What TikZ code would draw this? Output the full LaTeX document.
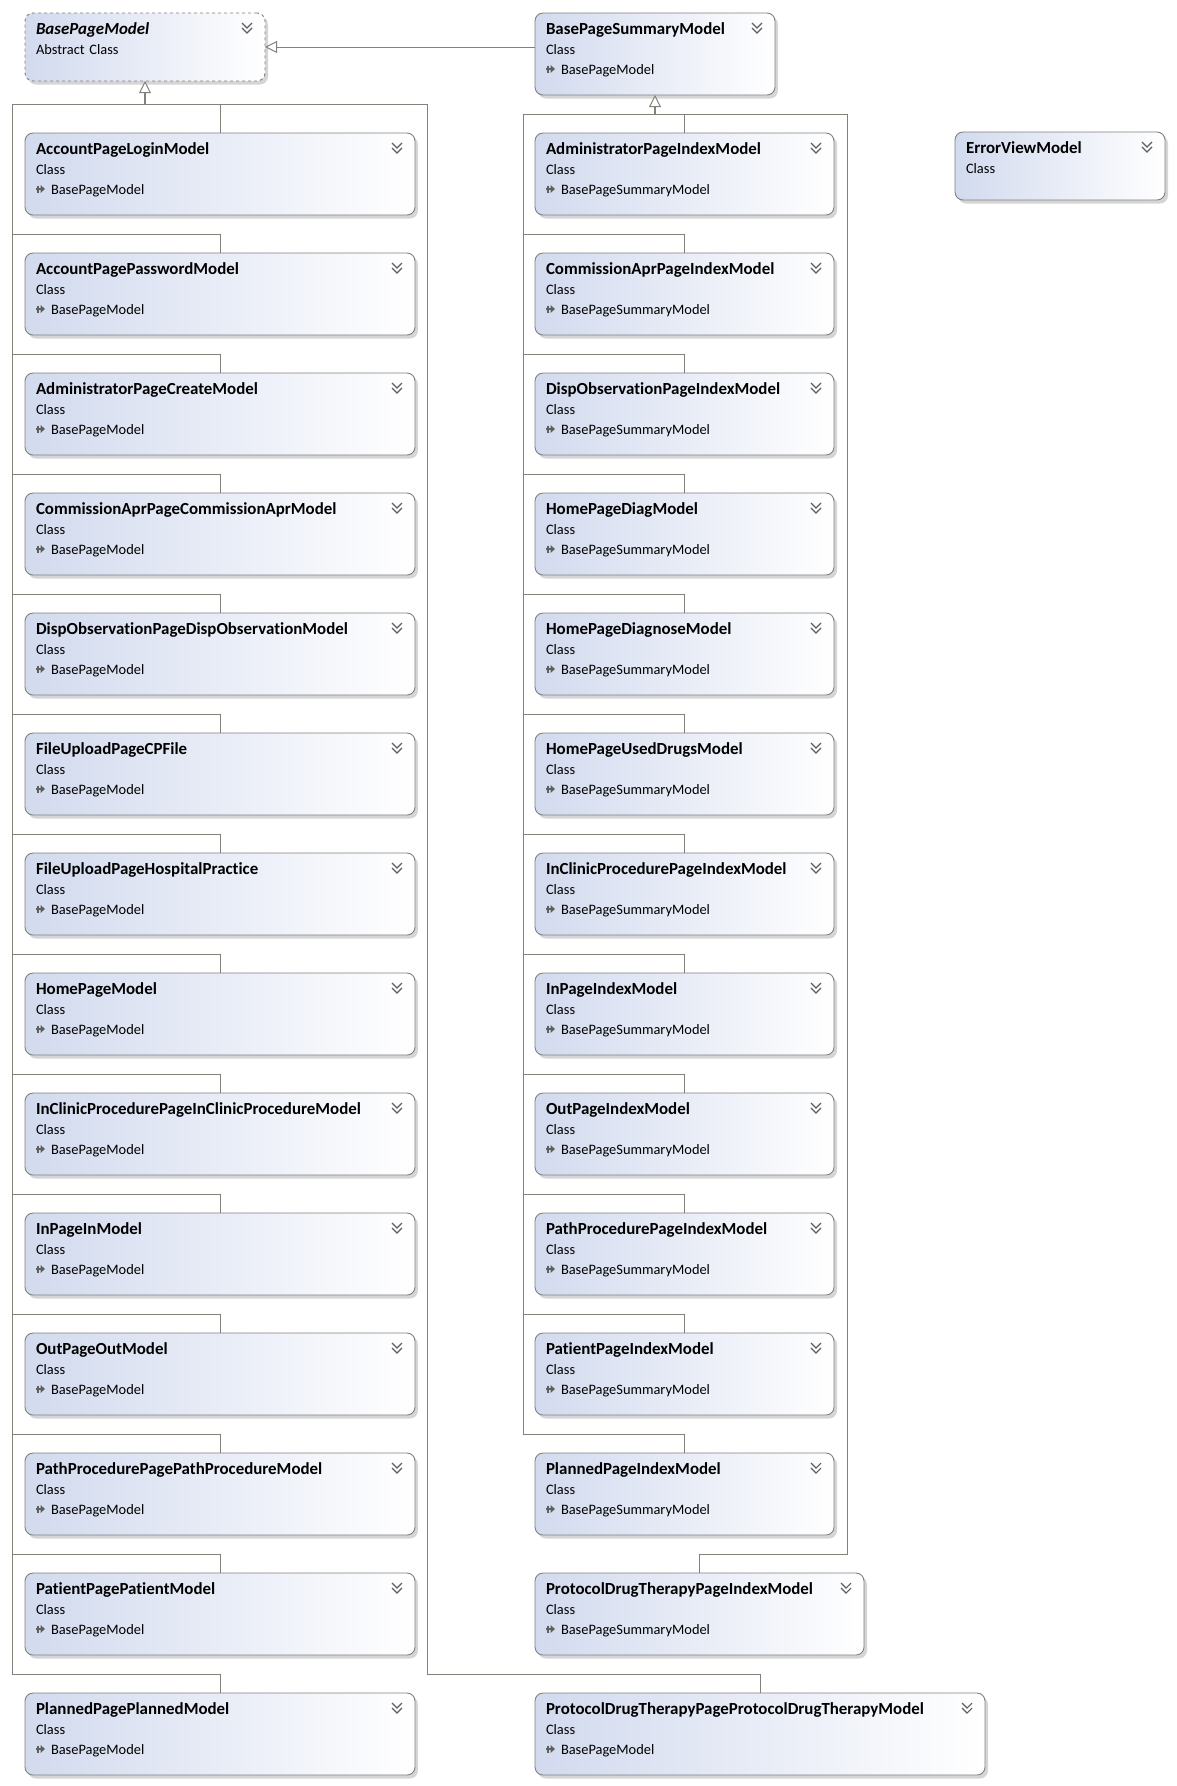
\documentclass[tikz,border=0pt]{standalone}
\usepackage{fontspec}
\setmainfont{Carlito}[Ligatures=NoCommon]
\usepackage{tikz}
\usetikzlibrary{arrows.meta}
\usetikzlibrary{positioning}
\usetikzlibrary{shadows}
\definecolor{boxleft}{RGB}{210,218,238}
\definecolor{boxline}{RGB}{128,128,128}
\definecolor{wire}{RGB}{130,130,122}
\definecolor{chev}{RGB}{95,95,95}
\newcommand{\inhicon}{\tikz[baseline=0pt,x=1pt,y=1pt,sharp corners,solid]{\fill[chev] (0,4) rectangle (5,6); \fill[chev] (1,1.5) rectangle (2.6,8.5); \fill[chev] (4.5,1) -- (9,5) -- (4.5,9) -- cycle;}}
\newcommand{\ctitle}[1]{{\fontsize{16.9}{20}\selectfont\bfseries #1}}
\newcommand{\classtext}[2]{\ctitle{#1}\\Class\\\inhicon\hspace{6pt}#2}
\tikzstyle{classbox} = [rectangle, rounded corners=8pt, draw=boxline, line width=0.9pt, outer sep=0pt,
    left color=boxleft, right color=white,
    drop shadow={shadow xshift=3pt, shadow yshift=-3.5pt, fill=black!30, opacity=.55},
    inner xsep=11pt, inner ysep=0pt, text height=21pt, text depth=61pt,
    align=left, anchor=north west, font=\fontsize{14.4}{20}\selectfont,
    path picture={\draw[chev, solid, sharp corners, line width=1.1pt]
        ([shift={(-23,10)}]path picture bounding box.north east) -- ++(5,5) -- ++(5,-5)
        ([shift={(-23,15)}]path picture bounding box.north east) -- ++(5,5) -- ++(5,-5);}]
\tikzstyle{abstractbox} = [classbox, dashed, text depth=47pt]
\tikzstyle{line} = [draw=wire, line width=1pt]
\tikzstyle{trunk} = [draw=wire, line width=1.8pt, -{Triangle[open, line width=1pt, length=12pt, width=12pt, fill=white]}]
\tikzstyle{inherit} = [draw=wire, line width=1pt, -{Triangle[open, length=12pt, width=12pt, fill=white]}]

\begin{document}
\begin{tikzpicture}[x=1pt,y=-1pt]
    \useasboundingbox (0,0) rectangle (1176,1786);
    % Place nodes
    \node [abstractbox, text width=218pt] (bpm) at (25,13) {\ctitle{\itshape BasePageModel}\\Abstract Class};
    \node [classbox, text width=218pt] (bsm) at (535,13) {\classtext{BasePageSummaryModel}{BasePageModel}};
    \node [classbox, text width=188pt, text depth=47pt] (evm) at (955,132) {\ctitle{ErrorViewModel}\\Class};

    \node [classbox, text width=368pt] (accLogin) at (25,133) {\classtext{AccountPageLoginModel}{BasePageModel}};
    \node [classbox, text width=368pt, below=38pt of accLogin.south west, anchor=north west] (accPassword) {\classtext{AccountPagePasswordModel}{BasePageModel}};
    \node [classbox, text width=368pt, below=38pt of accPassword.south west, anchor=north west] (adminCreate) {\classtext{AdministratorPageCreateModel}{BasePageModel}};
    \node [classbox, text width=368pt, below=38pt of adminCreate.south west, anchor=north west] (commAprModel) {\classtext{CommissionAprPageCommissionAprModel}{BasePageModel}};
    \node [classbox, text width=368pt, below=38pt of commAprModel.south west, anchor=north west] (dispObsModel) {\classtext{DispObservationPageDispObservationModel}{BasePageModel}};
    \node [classbox, text width=368pt, below=38pt of dispObsModel.south west, anchor=north west] (fileCp) {\classtext{FileUploadPageCPFile}{BasePageModel}};
    \node [classbox, text width=368pt, below=38pt of fileCp.south west, anchor=north west] (fileHospital) {\classtext{FileUploadPageHospitalPractice}{BasePageModel}};
    \node [classbox, text width=368pt, below=38pt of fileHospital.south west, anchor=north west] (homeModel) {\classtext{HomePageModel}{BasePageModel}};
    \node [classbox, text width=368pt, below=38pt of homeModel.south west, anchor=north west] (inClinicModel) {\classtext{InClinicProcedurePageInClinicProcedureModel}{BasePageModel}};
    \node [classbox, text width=368pt, below=38pt of inClinicModel.south west, anchor=north west] (inModel) {\classtext{InPageInModel}{BasePageModel}};
    \node [classbox, text width=368pt, below=38pt of inModel.south west, anchor=north west] (outModel) {\classtext{OutPageOutModel}{BasePageModel}};
    \node [classbox, text width=368pt, below=38pt of outModel.south west, anchor=north west] (pathModel) {\classtext{PathProcedurePagePathProcedureModel}{BasePageModel}};
    \node [classbox, text width=368pt, below=38pt of pathModel.south west, anchor=north west] (patientModel) {\classtext{PatientPagePatientModel}{BasePageModel}};
    \node [classbox, text width=368pt, below=38pt of patientModel.south west, anchor=north west] (plannedModel) {\classtext{PlannedPagePlannedModel}{BasePageModel}};

    \node [classbox, text width=277pt] (adminIndex) at (535,133) {\classtext{AdministratorPageIndexModel}{BasePageSummaryModel}};
    \node [classbox, text width=277pt, below=38pt of adminIndex.south west, anchor=north west] (commAprIndex) {\classtext{CommissionAprPageIndexModel}{BasePageSummaryModel}};
    \node [classbox, text width=277pt, below=38pt of commAprIndex.south west, anchor=north west] (dispObsIndex) {\classtext{DispObservationPageIndexModel}{BasePageSummaryModel}};
    \node [classbox, text width=277pt, below=38pt of dispObsIndex.south west, anchor=north west] (homeDiag) {\classtext{HomePageDiagModel}{BasePageSummaryModel}};
    \node [classbox, text width=277pt, below=38pt of homeDiag.south west, anchor=north west] (homeDiagnose) {\classtext{HomePageDiagnoseModel}{BasePageSummaryModel}};
    \node [classbox, text width=277pt, below=38pt of homeDiagnose.south west, anchor=north west] (homeUsedDrugs) {\classtext{HomePageUsedDrugsModel}{BasePageSummaryModel}};
    \node [classbox, text width=277pt, below=38pt of homeUsedDrugs.south west, anchor=north west] (inClinicIndex) {\classtext{InClinicProcedurePageIndexModel}{BasePageSummaryModel}};
    \node [classbox, text width=277pt, below=38pt of inClinicIndex.south west, anchor=north west] (inIndex) {\classtext{InPageIndexModel}{BasePageSummaryModel}};
    \node [classbox, text width=277pt, below=38pt of inIndex.south west, anchor=north west] (outIndex) {\classtext{OutPageIndexModel}{BasePageSummaryModel}};
    \node [classbox, text width=277pt, below=38pt of outIndex.south west, anchor=north west] (pathIndex) {\classtext{PathProcedurePageIndexModel}{BasePageSummaryModel}};
    \node [classbox, text width=277pt, below=38pt of pathIndex.south west, anchor=north west] (patientIndex) {\classtext{PatientPageIndexModel}{BasePageSummaryModel}};
    \node [classbox, text width=277pt, below=38pt of patientIndex.south west, anchor=north west] (plannedIndex) {\classtext{PlannedPageIndexModel}{BasePageSummaryModel}};
    \node [classbox, text width=307pt, below=38pt of plannedIndex.south west, anchor=north west] (protocolIndex) {\classtext{ProtocolDrugTherapyPageIndexModel}{BasePageSummaryModel}};
    \node [classbox, text width=428pt, below=38pt of protocolIndex.south west, anchor=north west] (protocolModel) {\classtext{ProtocolDrugTherapyPageProtocolDrugTherapyModel}{BasePageModel}};

    % Bus points
    \coordinate (hubL) at (145,104);
    \coordinate (busL) at (12.5,104);
    \coordinate (busLR) at (427,104);
    \coordinate (hubR) at (655,114);
    \coordinate (busR) at (523,114);
    \coordinate (busRR) at (847,114);

    % Draw edges
    \path [trunk] (hubL) -- (bpm);
    \path [trunk] (hubR) -- (bsm);
    \path [inherit] (bsm.west |- bpm.east) -- (bpm.east);

    \path [line] (accLogin) |- (hubL);
    \path [line] (accPassword.north) --++ (0,-19) -| (busL) -- (hubL);
    \path [line] (adminCreate.north) --++ (0,-19) -| (busL) -- (hubL);
    \path [line] (commAprModel.north) --++ (0,-19) -| (busL) -- (hubL);
    \path [line] (dispObsModel.north) --++ (0,-19) -| (busL) -- (hubL);
    \path [line] (fileCp.north) --++ (0,-19) -| (busL) -- (hubL);
    \path [line] (fileHospital.north) --++ (0,-19) -| (busL) -- (hubL);
    \path [line] (homeModel.north) --++ (0,-19) -| (busL) -- (hubL);
    \path [line] (inClinicModel.north) --++ (0,-19) -| (busL) -- (hubL);
    \path [line] (inModel.north) --++ (0,-19) -| (busL) -- (hubL);
    \path [line] (outModel.north) --++ (0,-19) -| (busL) -- (hubL);
    \path [line] (pathModel.north) --++ (0,-19) -| (busL) -- (hubL);
    \path [line] (patientModel.north) --++ (0,-19) -| (busL) -- (hubL);
    \path [line] (plannedModel.north) --++ (0,-19) -| (busL) -- (hubL);
    \path [line] (protocolModel.north) --++ (0,-19) -| (busLR) -- (hubL);

    \path [line] (adminIndex) |- (hubR);
    \path [line] (commAprIndex.north) --++ (0,-19) -| (busR) -- (hubR);
    \path [line] (dispObsIndex.north) --++ (0,-19) -| (busR) -- (hubR);
    \path [line] (homeDiag.north) --++ (0,-19) -| (busR) -- (hubR);
    \path [line] (homeDiagnose.north) --++ (0,-19) -| (busR) -- (hubR);
    \path [line] (homeUsedDrugs.north) --++ (0,-19) -| (busR) -- (hubR);
    \path [line] (inClinicIndex.north) --++ (0,-19) -| (busR) -- (hubR);
    \path [line] (inIndex.north) --++ (0,-19) -| (busR) -- (hubR);
    \path [line] (outIndex.north) --++ (0,-19) -| (busR) -- (hubR);
    \path [line] (pathIndex.north) --++ (0,-19) -| (busR) -- (hubR);
    \path [line] (patientIndex.north) --++ (0,-19) -| (busR) -- (hubR);
    \path [line] (plannedIndex.north) --++ (0,-19) -| (busR) -- (hubR);
    \path [line] (protocolIndex.north) --++ (0,-19) -| (busRR) -- (hubR);
\end{tikzpicture}
\end{document}
